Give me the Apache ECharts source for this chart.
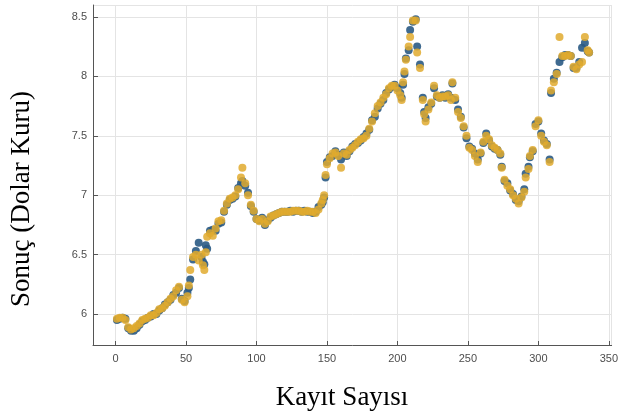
<!DOCTYPE html>
<html>
<head>
<meta charset="utf-8">
<style>
  html,body{margin:0;padding:0;background:#fff;}
  .chart_box{width:621px;height:414px;}
</style>
<script src="https://cdn.jsdelivr.net/npm/echarts@6/dist/echarts.min.js"></script>
</head>
<body>
<div class="chart_box" id="mychart1"></div>
<script>
// kayit no (x)
let kayit = [1,3,5,7,9,11,13,15,17,19,21,23,25,27,29,31,33,35,37,39,41,43,45,47,49,51,52,53,55,57,59,61,62,63,64,65,67,69,71,73,75,77,79,81,83,85,87,89,90,92,94,96,98,
  100,102,104,106,108,110,112,114,116,118,120,122,124,126,128,130,132,134,136,138,140,142,144,146,147,148,149,150,152,154,156,158,160,162,164,166,168,170,172,174,176,178,180,182,184,186,188,190,192,194,196,198,
  200,202,203,204,205,206,208,209,211,213,214,216,218,219,220,222,224,226,228,230,232,234,236,238,239,241,243,245,247,249,251,253,255,257,259,261,263,265,267,269,271,273,274,276,278,280,282,284,286,288,290,291,293,294,296,298,
  300,302,304,306,308,309,311,313,315,317,319,321,323,325,327,329,331,333,335,336];
// gercek deger (mavi)
let gercek = [5.95,5.96,5.97,5.96,5.88,5.86,5.86,5.88,5.91,5.94,5.95,5.97,5.98,6.00,6.00,6.03,6.05,6.08,6.10,6.12,6.16,6.18,6.22,6.13,6.11,6.18,6.22,6.29,6.46,6.53,6.60,6.48,6.44,6.42,6.58,6.55,6.70,6.71,6.70,6.76,6.77,6.86,6.92,6.96,6.97,6.99,7.06,7.10,7.12,7.08,7.02,6.91,6.86,
  6.80,6.79,6.81,6.75,6.79,6.81,6.83,6.84,6.85,6.86,6.86,6.86,6.87,6.86,6.87,6.87,6.86,6.87,6.86,6.86,6.85,6.86,6.90,6.92,6.94,6.98,7.15,7.28,7.32,7.33,7.37,7.34,7.30,7.36,7.33,7.37,7.41,7.43,7.44,7.46,7.49,7.52,7.55,7.63,7.66,7.73,7.77,7.80,7.86,7.89,7.91,7.93,
  7.90,7.86,7.82,7.93,8.02,8.15,8.22,8.39,8.46,8.48,8.25,8.10,7.82,7.70,7.65,7.74,7.77,7.90,7.83,7.82,7.84,7.82,7.85,7.82,7.94,7.80,7.72,7.66,7.57,7.48,7.41,7.39,7.35,7.30,7.35,7.44,7.52,7.46,7.41,7.39,7.38,7.34,7.24,7.12,7.10,7.04,7.01,6.96,6.95,6.99,7.05,7.18,7.24,7.32,7.37,7.60,
  7.62,7.52,7.46,7.43,7.30,7.86,7.98,8.03,8.12,8.16,8.18,8.18,8.17,8.07,8.07,8.12,8.24,8.28,8.21,8.20];
// tahmin (turuncu)
let tahmin = [5.96,5.97,5.97,5.95,5.89,5.87,5.88,5.90,5.92,5.95,5.96,5.97,5.99,5.99,6.01,6.04,6.05,6.07,6.10,6.13,6.15,6.20,6.23,6.12,6.10,6.15,6.24,6.37,6.48,6.50,6.45,6.50,6.41,6.37,6.52,6.65,6.68,6.66,6.72,6.78,6.79,6.87,6.93,6.97,6.98,7.00,7.05,7.15,7.23,7.10,7.00,6.92,6.87,
  6.80,6.78,6.80,6.76,6.78,6.82,6.83,6.84,6.85,6.86,6.86,6.86,6.86,6.87,6.87,6.87,6.86,6.86,6.87,6.86,6.86,6.85,6.88,6.93,6.96,7.00,7.17,7.26,7.31,7.35,7.36,7.33,7.23,7.35,7.34,7.38,7.40,7.42,7.45,7.47,7.48,7.50,7.56,7.62,7.69,7.75,7.78,7.82,7.85,7.90,7.92,7.92,
  7.88,7.84,7.80,7.95,8.04,8.14,8.25,8.33,8.47,8.47,8.20,8.07,7.80,7.68,7.62,7.72,7.78,7.92,7.84,7.82,7.83,7.83,7.84,7.80,7.95,7.82,7.70,7.65,7.58,7.50,7.40,7.38,7.33,7.28,7.36,7.45,7.50,7.47,7.42,7.40,7.38,7.35,7.23,7.13,7.08,7.05,7.00,6.97,6.93,6.98,7.03,7.15,7.22,7.33,7.38,7.58,
  7.63,7.50,7.45,7.42,7.28,7.88,7.95,8.02,8.33,8.17,8.17,8.18,8.17,8.08,8.06,8.10,8.12,8.33,8.22,8.20];

let xMin = -16, xMax = 352;
let yMin = 5.74, yMax = 8.6;

function toPairs(xs, ys) {
  let arr = [];
  for (let i = 0; i < xs.length; i++) {
    arr.push([xs[i], ys[i]]);
  }
  return arr;
}

function createOption() {
  let axisLab = {
    fontFamily: 'Liberation Sans',
    fontSize: 11,
    color: '#4d4d4d'
  };
  let option = {
    animation: false,
    backgroundColor: '#fff',
    grid: {
      left: 93,
      top: 5,
      right: 1,
      bottom: 69
    },
    xAxis: {
      type: 'value',
      min: xMin,
      max: xMax,
      minInterval: 50,
      maxInterval: 50,
      axisLine: { show: true, onZero: false, lineStyle: { color: '#555', width: 1 } },
      axisTick: { show: true, inside: true, length: 4, lineStyle: { color: '#555' } },
      axisLabel: Object.assign({ margin: 8, showMinLabel: false, showMaxLabel: false }, axisLab),
      splitLine: { show: true, lineStyle: { color: '#e4e4e4', width: 1 } }
    },
    yAxis: {
      type: 'value',
      min: yMin,
      max: yMax,
      minInterval: 0.5,
      maxInterval: 0.5,
      axisLine: { show: true, onZero: false, lineStyle: { color: '#555', width: 1 } },
      axisTick: { show: true, inside: true, length: 5, lineStyle: { color: '#555' } },
      axisLabel: Object.assign({ margin: 6, showMinLabel: false, showMaxLabel: false }, axisLab),
      splitLine: { show: true, lineStyle: { color: '#e4e4e4', width: 1 } }
    },
    graphic: [
      {
        type: 'text',
        x: 22,
        y: 199,
        rotation: Math.PI / 2,
        style: {
          text: 'Sonuç (Dolar Kuru)',
          fill: '#000',
          font: '27px "Liberation Serif"',
          align: 'center',
          verticalAlign: 'middle'
        }
      },
      {
        type: 'text',
        x: 342,
        y: 398,
        style: {
          text: 'Kayıt Sayısı',
          fill: '#000',
          font: '27px "Liberation Serif"',
          align: 'center',
          verticalAlign: 'middle'
        }
      }
    ],
    series: [
      {
        name: 'Gerçek',
        type: 'scatter',
        symbolSize: 8,
        data: toPairs(kayit, gercek),
        itemStyle: { color: '#2a5a84', opacity: 0.9 }
      },
      {
        name: 'Tahmin',
        type: 'scatter',
        symbolSize: 8,
        data: toPairs(kayit, tahmin),
        itemStyle: { color: '#e0aa2e', opacity: 0.85 }
      }
    ]
  };
  return option;
}

let mychart1 = echarts.init(document.getElementById('mychart1'));
mychart1.setOption(createOption());
</script>
</body>
</html>
